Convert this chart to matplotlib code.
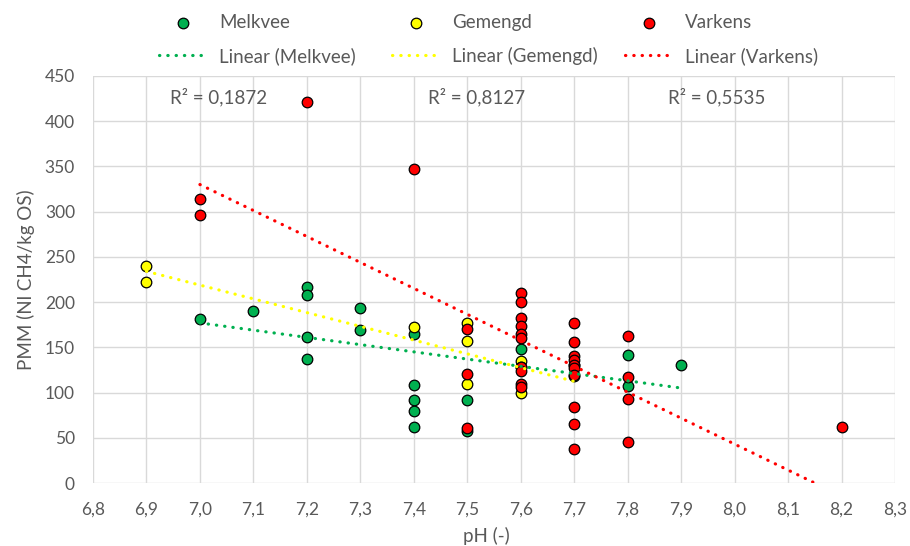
import matplotlib
matplotlib.use("Agg")
import numpy as np
import matplotlib.pyplot as plt
from matplotlib.ticker import FuncFormatter, MultipleLocator

# pH and methane potential per manure type
melkvee_ph = [7.0, 7.1, 7.2, 7.2, 7.2, 7.2, 7.3, 7.3, 7.4, 7.4, 7.4, 7.4, 7.4,
              7.5, 7.5, 7.6, 7.7, 7.8, 7.8, 7.9]
melkvee_pmm = [181, 190, 217, 208, 161, 137, 193, 169, 165, 108, 92, 80, 62,
               92, 57, 148, 118, 141, 107, 130]

gemengd_ph = [6.9, 6.9, 7.4, 7.5, 7.5, 7.5, 7.6, 7.6, 7.6, 7.7]
gemengd_pmm = [240, 222, 173, 177, 157, 110, 135, 128, 99, 130]

varkens_ph = [7.0, 7.0, 7.2, 7.4, 7.5, 7.5, 7.5,
              7.6, 7.6, 7.6, 7.6, 7.6, 7.6, 7.6, 7.6, 7.6, 7.6,
              7.7, 7.7, 7.7, 7.7, 7.7, 7.7, 7.7, 7.7, 7.7, 7.7,
              7.8, 7.8, 7.8, 7.8, 8.2]
varkens_pmm = [314, 296, 421, 347, 170, 120, 61,
               210, 200, 182, 174, 165, 160, 128, 124, 110, 106,
               177, 156, 140, 136, 130, 127, 119, 84, 65, 38,
               162, 117, 93, 45, 62]

series_names = ["Melkvee", "Gemengd", "Varkens"]
series_colors = ["#00B050", "#FFFF00", "#FF0000"]

# linear trend lines: pmm = intercept + slope * pH
trend_intercept = [737.0, 1282.8, 2339.0]
trend_slope = [-80.0, -152.0, -287.0]
r_squared = ["0,1872", "0,8127", "0,5535"]
r_squared_ph = [7.034, 7.518, 7.966]

x_ticks = np.round(np.arange(6.8, 8.31, 0.1), 1)

TEXT = "#595959"
GRID = "#D9D9D9"
plt.rcParams["font.family"] = ["Lato", "DejaVu Sans"]
plt.rcParams["text.color"] = TEXT

fig = plt.figure(figsize=(9.10, 5.46), dpi=100)
ax = fig.add_axes([93 / 910, 1 - 483 / 546, 802 / 910, 407 / 546])

data = [(melkvee_ph, melkvee_pmm), (gemengd_ph, gemengd_pmm),
        (varkens_ph, varkens_pmm)]
for i, ((xs, ys), name, col) in enumerate(zip(data, series_names, series_colors)):
    sc = ax.scatter(xs, ys, s=58, c=col, edgecolors="black", linewidths=0.9,
                    zorder=3 + i, label=name)
    xr = np.array([min(xs), max(xs)])
    line, = ax.plot(xr, trend_intercept[i] + trend_slope[i] * xr, color=col,
                    lw=2.3, linestyle=(0, (0.1, 2.5)), dash_capstyle="round",
                    zorder=10, label=f"Linear ({name})")
    # one legend column per series: marker on top, trend line below
    leg = fig.legend(handles=[sc, line], loc="center left",
                     bbox_to_anchor=((159 + 233 * i) / 910, 1 - 39.5 / 546),
                     frameon=False, fontsize=13.5, handlelength=2.6,
                     handletextpad=0.6, labelspacing=0.85, borderpad=0,
                     borderaxespad=0, scatterpoints=1)
    for t in leg.get_texts():
        t.set_color(TEXT)

for xr, r in zip(r_squared_ph, r_squared):
    ax.text(xr, 427, f"R² = {r}", ha="center", va="center", fontsize=13.5,
            color=TEXT)

ax.set_xlim(6.8, 8.3)
ax.set_ylim(0, 450)
ax.set_xticks(x_ticks)
ax.yaxis.set_major_locator(MultipleLocator(50))
ax.xaxis.set_major_formatter(FuncFormatter(lambda v, p: f"{v:.1f}".replace(".", ",")))
ax.yaxis.set_major_formatter(FuncFormatter(lambda v, p: f"{v:.0f}"))
ax.grid(True, color=GRID, lw=1.0, zorder=0)
ax.set_axisbelow(True)
for s in ax.spines.values():
    s.set_visible(False)
ax.tick_params(length=0, labelsize=12.5, colors=TEXT)
ax.tick_params(axis="x", pad=13.5)
ax.tick_params(axis="y", pad=13)

ax.set_xlabel("pH (-)", fontsize=13.5, color=TEXT)
ax.xaxis.set_label_coords(0.49, -0.108)
ax.set_ylabel("PMM (Nl CH4/kg OS)", fontsize=13.5, color=TEXT)
ax.yaxis.set_label_coords(-0.072, 0.5)

fig.savefig("out.png", dpi=100)
